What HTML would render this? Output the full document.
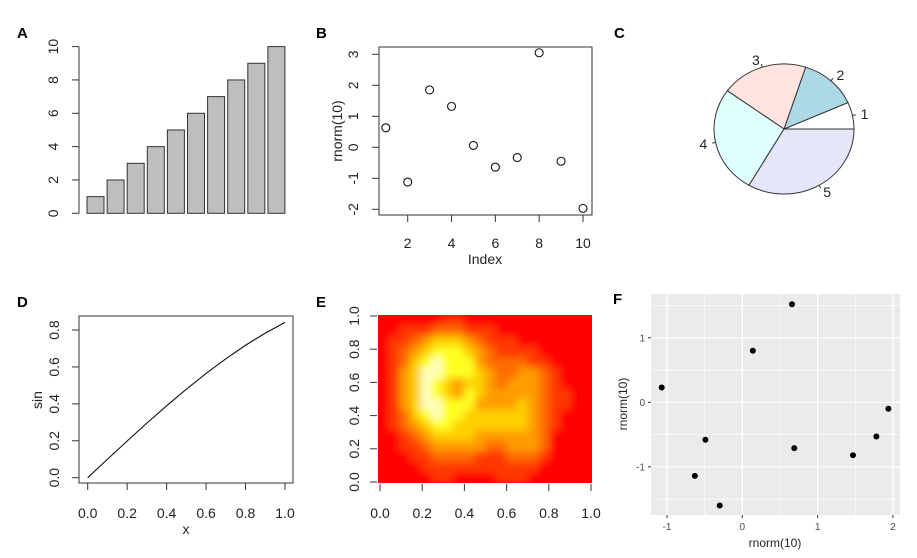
<!DOCTYPE html>
<html><head><meta charset="utf-8"><style>
html,body{margin:0;padding:0;background:#fff;}
svg{display:block;font-family:"Liberation Sans",Arial,sans-serif;}
</style></head><body>
<svg id="fig" width="917" height="558" viewBox="0 0 917 558" xmlns="http://www.w3.org/2000/svg">
<defs>
<clipPath id="eclip"><rect x="378" y="315" width="214" height="168"/></clipPath>
<filter id="eblur" x="0" y="0" width="1" height="1"><feGaussianBlur stdDeviation="4"/></filter>
<clipPath id="fclip"><rect x="651" y="294" width="249" height="221"/></clipPath>
</defs>
<g id="pA"></g>
<g id="pB"></g>
<g id="pC"></g>
<g id="pD"></g>
<g id="pE"></g>
<g id="pF"></g>
</svg>
<script>
// ---- data ----
const barValues = [1,2,3,4,5,6,7,8,9,10];
const barTicks = [0,2,4,6,8,10];
const scatterB = [0.63,-1.12,1.85,1.32,0.06,-0.64,-0.33,3.05,-0.45,-1.97];
const bXTicks = [2,4,6,8,10];
const bYTicks = [-2,-1,0,1,2,3];
const pieValues = [1,2,3,4,5];
const pieLabels = ["1","2","3","4","5"];
const pieColors = ["#ffffff","#add8e6","#ffe4e1","#e0ffff","#e6e6fa"];
const sinX = [0,0.1,0.2,0.3,0.4,0.5,0.6,0.7,0.8,0.9,1.0];
const sinY = [0,0.0998,0.1987,0.2955,0.3894,0.4794,0.5646,0.6442,0.7174,0.7833,0.8415];
const dXTicks = [0,0.2,0.4,0.6,0.8,1.0];
const dYTicks = [0,0.2,0.4,0.6,0.8];
const heatLevels = [
[0,0,0,0,0,0,1,1,0,0,0,0,0,0,0,0,0,0,0,0],
[0,0,1,1,1,2,2,2,1,1,1,0,0,0,0,0,0,0,0,0],
[0,1,1,2,3,4,4,4,3,2,1,1,1,0,0,0,0,0,0,0],
[0,1,2,3,4,5,5,5,4,3,2,1,1,1,1,0,0,0,0,0],
[0,1,2,4,5,6,5,5,5,3,2,2,2,2,1,1,0,0,0,0],
[0,1,3,4,6,6,5,5,5,4,3,2,2,3,3,2,1,0,0,0],
[0,1,3,4,6,5,4,3,4,4,3,2,3,3,3,2,1,0,0,0],
[0,1,3,4,6,5,4,3,5,4,3,3,3,3,3,2,1,1,0,0],
[0,1,3,4,6,6,5,5,5,3,3,3,3,4,3,2,1,1,0,0],
[0,1,2,4,5,6,5,5,4,4,4,4,4,4,3,2,1,0,0,0],
[0,1,2,3,4,5,5,4,4,4,4,4,4,4,3,2,1,0,0,0],
[0,0,1,2,3,4,4,4,4,3,3,3,3,3,3,2,0,0,0,0],
[0,0,1,1,2,3,3,3,3,3,2,2,3,3,3,2,0,0,0,0],
[0,0,0,1,1,2,2,2,2,1,1,1,2,2,2,1,0,0,0,0],
[0,0,0,0,1,1,1,1,1,1,1,1,1,1,1,0,0,0,0,0],
[0,0,0,0,0,1,1,0,0,0,0,1,1,1,0,0,0,0,0,0]];
const heatColors = ["#ff0000","#ff3800","#ff6a00","#ff9c00","#ffcf00","#ffff20","#ffffc0"];
const fX = [-1.07,0.14,0.66,-0.49,-0.63,-0.30,0.69,1.47,1.78,1.94];
const fY = [0.23,0.80,1.52,-0.58,-1.14,-1.60,-0.71,-0.82,-0.53,-0.10];
const fXTicks = [-1,0,1,2];
const fYTicks = [-1,0,1];
const fXMinor = [-0.5,0.5,1.5];
const fYMinor = [-1.5,-0.5,0.5,1.5];

const NS = "http://www.w3.org/2000/svg";
function mk(parent, tag, attrs, text){
  const e = document.createElementNS(NS, tag);
  for (const k in attrs) e.setAttribute(k, attrs[k]);
  if (text !== undefined) e.textContent = text;
  parent.appendChild(e);
  return e;
}
function fmt1(v){ return v.toFixed(1); }

// ---- Panel A ----
(function(){
  const g = document.getElementById('pA');
  const y = v => 213.3 - v*16.67;
  const bx = i => 87 + i*20.1;
  let t = mk(g,'text',{x:17,y:38,'font-size':15,'font-weight':'bold'},'A');
  
  
  barValues.forEach((v,i)=>{
    const r = mk(g,'rect',{x:bx(i),y:y(v),width:17,height:y(0)-y(v),fill:'#bebebe',stroke:'#333','stroke-width':1});
    
    
  });
  const ax = mk(g,'line',{x1:79,x2:79,y1:y(0),y2:y(10),stroke:'#333'});
  
  
  barTicks.forEach(v=>{
    mk(g,'line',{x1:72,x2:79,y1:y(v),y2:y(v),stroke:'#333'});
    const l = mk(g,'text',{x:58,y:y(v),'font-size':14,'text-anchor':'middle',fill:'#222',transform:`rotate(-90 58 ${y(v)})`},String(v));
    
    
  });
})();

// ---- Panel B ----
(function(){
  const g = document.getElementById('pB');
  const x = v => 385.8 + (v-1)*21.91;
  const y = v => 54.3 - (v-3)*31;
  let t = mk(g,'text',{x:316,y:38,'font-size':15,'font-weight':'bold'},'B');
  
  
  const box = mk(g,'rect',{x:379,y:47,width:213,height:168,fill:'none',stroke:'#333'});
  
  
  scatterB.forEach((v,i)=>{
    const c = mk(g,'circle',{cx:x(i+1),cy:y(v),r:4,fill:'none',stroke:'#111','stroke-width':1.1});
    
    
  });
  bXTicks.forEach(v=>{
    mk(g,'line',{x1:x(v),x2:x(v),y1:215,y2:222,stroke:'#333'});
    const l = mk(g,'text',{x:x(v),y:248,'font-size':14,'text-anchor':'middle',fill:'#222'},String(v));
    
    
  });
  bYTicks.forEach(v=>{
    mk(g,'line',{x1:372,x2:379,y1:y(v),y2:y(v),stroke:'#333'});
    const l = mk(g,'text',{x:358,y:y(v),'font-size':14,'text-anchor':'middle',fill:'#222',transform:`rotate(-90 358 ${y(v)})`},String(v));
    
    
  });
  let xl = mk(g,'text',{x:485,y:264,'font-size':14,'text-anchor':'middle',fill:'#222'},'Index');
  
  
  let yl = mk(g,'text',{x:342,y:131,'font-size':14,'text-anchor':'middle',fill:'#222',transform:'rotate(-90 342 131)'},'rnorm(10)');
  
  
})();

// ---- Panel C ----
(function(){
  const g = document.getElementById('pC');
  const cx=784, cy=129, rx=70, ry=65;
  let t = mk(g,'text',{x:614,y:38,'font-size':15,'font-weight':'bold'},'C');
  
  
  const total = pieValues.reduce((a,b)=>a+b,0);
  let a0 = 0;
  const pt = (a,s)=>[cx+rx*s*Math.cos(a), cy-ry*s*Math.sin(a)];
  pieValues.forEach((v,i)=>{
    const a1 = a0 + v/total*2*Math.PI;
    const p0 = pt(a0,1), p1 = pt(a1,1);
    const large = (a1-a0)>Math.PI?1:0;
    const s = mk(g,'path',{d:`M${cx},${cy} L${p0[0]},${p0[1]} A${rx},${ry} 0 ${large} 0 ${p1[0]},${p1[1]} Z`,fill:pieColors[i],stroke:'#333','stroke-width':1});
    
    
    const am = (a0+a1)/2;
    const q0 = pt(am,1), q1 = pt(am,1.05), q2 = pt(am,1.12);
    mk(g,'line',{x1:q0[0],y1:q0[1],x2:q1[0],y2:q1[1],stroke:'#333'});
    const l = mk(g,'text',{x:q2[0],y:q2[1]+5,'font-size':14,fill:'#222','text-anchor':Math.cos(am)>0?'start':'end'},pieLabels[i]);
    
    
    a0 = a1;
  });
})();

// ---- Panel D ----
(function(){
  const g = document.getElementById('pD');
  const x = v => 87.7 + v*197.3;
  const y = v => 477.7 - v*184.6;
  let t = mk(g,'text',{x:17,y:307,'font-size':15,'font-weight':'bold'},'D');
  
  
  const box = mk(g,'rect',{x:79,y:316,width:214,height:167,fill:'none',stroke:'#333'});
  
  
  const d = sinX.map((v,i)=>(i?'L':'M')+x(v)+','+y(sinY[i])).join(' ');
  const ln = mk(g,'path',{d:d,fill:'none',stroke:'#111','stroke-width':1.1});
  
  
  dXTicks.forEach(v=>{
    mk(g,'line',{x1:x(v),x2:x(v),y1:483,y2:490,stroke:'#333'});
    const l = mk(g,'text',{x:x(v),y:518,'font-size':14,'text-anchor':'middle',fill:'#222'},fmt1(v));
    
    
  });
  dYTicks.forEach(v=>{
    mk(g,'line',{x1:72,x2:79,y1:y(v),y2:y(v),stroke:'#333'});
    const l = mk(g,'text',{x:59,y:y(v),'font-size':14,'text-anchor':'middle',fill:'#222',transform:`rotate(-90 59 ${y(v)})`},fmt1(v));
    
    
  });
  let xl = mk(g,'text',{x:186,y:534,'font-size':14,'text-anchor':'middle',fill:'#222'},'x');
  
  
  let yl = mk(g,'text',{x:42,y:400,'font-size':14,'text-anchor':'middle',fill:'#222',transform:'rotate(-90 42 400)'},'sin');
  
  
})();

// ---- Panel E ----
(function(){
  const g = document.getElementById('pE');
  const x = v => 380 + v*211;
  const y = v => 482 - v*166;
  let t = mk(g,'text',{x:316,y:307,'font-size':15,'font-weight':'bold'},'E');
  
  
  const rows = heatLevels.length, cols = heatLevels[0].length;
  const cw = 214/cols, ch = 168/rows;
  const clip = mk(g,'g',{'clip-path':'url(#eclip)'});
  mk(clip,'rect',{x:378,y:315,width:214,height:168,fill:heatColors[0]});
  const hg = mk(clip,'g',{filter:'url(#eblur)'});
  
  
  heatLevels.forEach((row,r)=>row.forEach((lv,c)=>{
    const cell = mk(hg,'rect',{x:378+c*cw,y:315+r*ch,width:cw+0.5,height:ch+0.5,fill:heatColors[lv]});
    
    
  }));
  dXTicks.forEach(v=>{
    mk(g,'line',{x1:x(v),x2:x(v),y1:484,y2:491,stroke:'#333'});
    const l = mk(g,'text',{x:x(v),y:518,'font-size':14,'text-anchor':'middle',fill:'#222'},fmt1(v));
    
    
  });
  [0,0.2,0.4,0.6,0.8,1.0].forEach(v=>{
    mk(g,'line',{x1:370,x2:377,y1:y(v),y2:y(v),stroke:'#333'});
    const l = mk(g,'text',{x:359,y:y(v),'font-size':14,'text-anchor':'middle',fill:'#222',transform:`rotate(-90 359 ${y(v)})`},fmt1(v));
    
    
  });
})();

// ---- Panel F ----
(function(){
  const g = document.getElementById('pF');
  const x = v => 742.3 + v*75.3;
  const y = v => 402.3 - v*64.5;
  let t = mk(g,'text',{x:613,y:304,'font-size':15,'font-weight':'bold'},'F');
  
  
  const bg = mk(g,'rect',{x:651,y:294,width:249,height:221,fill:'#ebebeb'});
  
  
  const gg = mk(g,'g',{'clip-path':'url(#fclip)'});
  fXMinor.forEach(v=>mk(gg,'line',{x1:x(v),x2:x(v),y1:294,y2:515,stroke:'#fff','stroke-width':0.6}));
  fYMinor.forEach(v=>mk(gg,'line',{x1:651,x2:900,y1:y(v),y2:y(v),stroke:'#fff','stroke-width':0.6}));
  fXTicks.forEach(v=>mk(gg,'line',{x1:x(v),x2:x(v),y1:294,y2:515,stroke:'#fff','stroke-width':1.2}));
  fYTicks.forEach(v=>mk(gg,'line',{x1:651,x2:900,y1:y(v),y2:y(v),stroke:'#fff','stroke-width':1.2}));
  fX.forEach((v,i)=>{
    const c = mk(gg,'circle',{cx:x(v),cy:y(fY[i]),r:3,fill:'#000'});
    
    
  });
  fXTicks.forEach(v=>{
    mk(g,'line',{x1:x(v),x2:x(v),y1:515,y2:518,stroke:'#333'});
    const l = mk(g,'text',{x:x(v),y:530,'font-size':10,'text-anchor':'middle',fill:'#4d4d4d'},String(v));
    
    
  });
  fYTicks.forEach(v=>{
    mk(g,'line',{x1:648,x2:651,y1:y(v),y2:y(v),stroke:'#333'});
    const l = mk(g,'text',{x:645,y:y(v)+3.5,'font-size':10,'text-anchor':'end',fill:'#4d4d4d'},String(v));
    
    
  });
  let xl = mk(g,'text',{x:775,y:547,'font-size':12,'text-anchor':'middle',fill:'#222'},'rnorm(10)');
  
  
  let yl = mk(g,'text',{x:627,y:404,'font-size':12,'text-anchor':'middle',fill:'#222',transform:'rotate(-90 627 404)'},'rnorm(10)');
  
  
})();
</script>
</body></html>
